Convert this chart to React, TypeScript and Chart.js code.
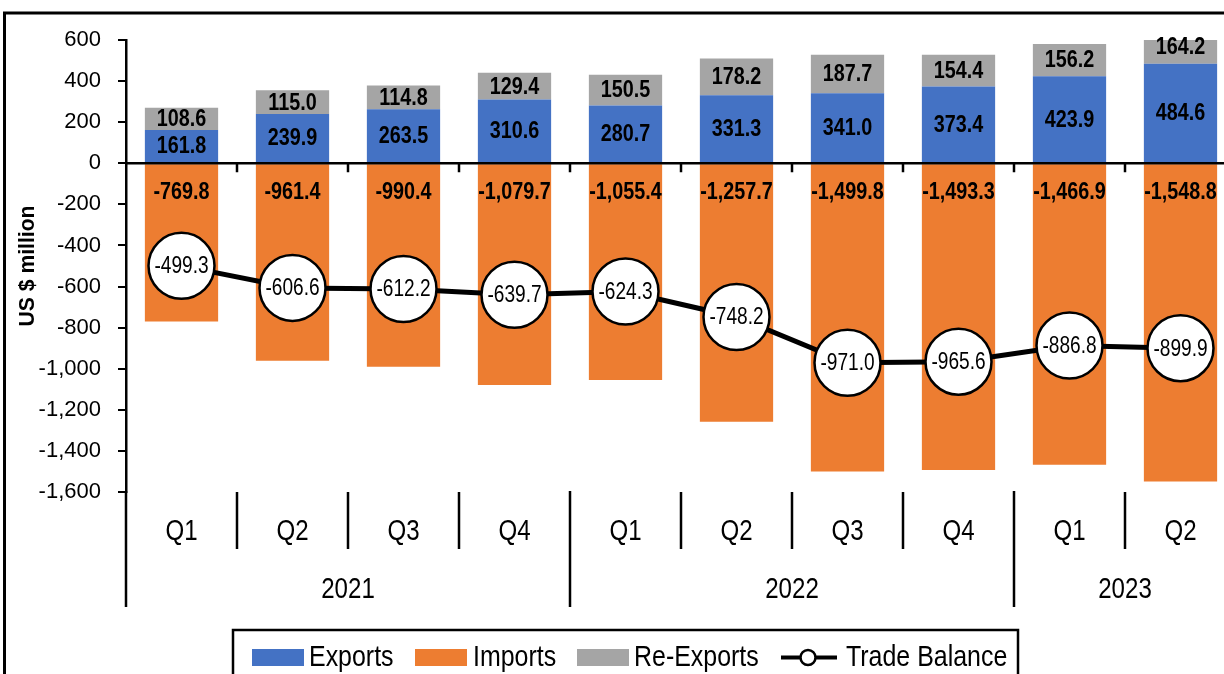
import React, { useEffect, useRef } from "react";
import { Chart, registerables } from "chart.js";

Chart.register(...registerables);

const QUARTERS = ["Q1", "Q2", "Q3", "Q4", "Q1", "Q2", "Q3", "Q4", "Q1", "Q2"];
const YEAR_LABELS = ["2021", "2022", "2023"];
const YEAR_SPANS = [4, 4, 2];

const EXPORTS = [161.8, 239.9, 263.5, 310.6, 280.7, 331.3, 341.0, 373.4, 423.9, 484.6];
const RE_EXPORTS = [108.6, 115.0, 114.8, 129.4, 150.5, 178.2, 187.7, 154.4, 156.2, 164.2];
const IMPORTS = [-769.8, -961.4, -990.4, -1079.7, -1055.4, -1257.7, -1499.8, -1493.3, -1466.9, -1548.8];
const TRADE_BALANCE = [-499.3, -606.6, -612.2, -639.7, -624.3, -748.2, -971.0, -965.6, -886.8, -899.9];

const Y_MIN = -1600;
const Y_MAX = 600;
const Y_STEP = 200;

const BLUE = "#4472C4";
const ORANGE = "#ED7D31";
const GRAY = "#A5A5A5";
const FONT = "'Liberation Sans', Arial, Helvetica, sans-serif";

function fmt(v: number): string {
  return v.toLocaleString("en-US", { minimumFractionDigits: 1, maximumFractionDigits: 1 });
}

function txt(
  ctx: CanvasRenderingContext2D,
  s: string,
  x: number,
  y: number,
  font: string,
  sx: number,
  align: CanvasTextAlign = "center",
  baseline: CanvasTextBaseline = "middle",
  rot = 0
) {
  ctx.save();
  ctx.translate(x, y);
  if (rot) ctx.rotate(rot);
  ctx.scale(sx, 1);
  ctx.font = font;
  ctx.fillStyle = "#000";
  ctx.textAlign = align;
  ctx.textBaseline = baseline;
  ctx.fillText(s, 0, 0);
  ctx.restore();
}

const customPlugin = {
  id: "customDraw",
  beforeDraw(chart: any) {
    const ctx = chart.ctx as CanvasRenderingContext2D;
    ctx.save();
    ctx.fillStyle = "#fff";
    ctx.fillRect(0, 0, chart.width, chart.height);
    ctx.strokeStyle = "#000";
    ctx.lineWidth = 3;
    ctx.strokeRect(4.5, 13, chart.width + 40, chart.height + 40);
    ctx.restore();
  },
  beforeDatasetDraw(chart: any, args: any) {
    if (args.index !== 3) return;
    const ctx = chart.ctx as CanvasRenderingContext2D;
    const { left, right } = chart.chartArea;
    const y0 = chart.scales.y.getPixelForValue(0);
    const n = QUARTERS.length;
    const w = (right - left) / n;
    ctx.save();
    ctx.strokeStyle = "#000";
    ctx.lineWidth = 2.5;
    ctx.beginPath();
    ctx.moveTo(left, y0);
    ctx.lineTo(right, y0);
    for (let i = 1; i <= n; i++) {
      const bx = left + i * w;
      ctx.moveTo(bx, y0);
      ctx.lineTo(bx, y0 + 9);
    }
    ctx.stroke();
    ctx.restore();
  },
  afterDatasetsDraw(chart: any) {
    const ctx = chart.ctx as CanvasRenderingContext2D;
    const boldF = `bold 23px ${FONT}`;
    const expMeta = chart.getDatasetMeta(0);
    const impMeta = chart.getDatasetMeta(1);
    const reMeta = chart.getDatasetMeta(2);
    const lineMeta = chart.getDatasetMeta(3);
    for (let i = 0; i < QUARTERS.length; i++) {
      const e = expMeta.data[i];
      txt(ctx, fmt(EXPORTS[i]), e.x, (e.y + e.base) / 2 + 1, boldF, 0.86);
      const r = reMeta.data[i];
      txt(ctx, fmt(RE_EXPORTS[i]), r.x, (r.y + r.base) / 2 + 1, boldF, 0.86);
      const m = impMeta.data[i];
      txt(ctx, fmt(IMPORTS[i]), m.x, m.base + 28, boldF, 0.86);
      const p = lineMeta.data[i];
      txt(ctx, fmt(TRADE_BALANCE[i]), p.x, p.y + 1, `23px ${FONT}`, 0.83);
    }
  },
  afterDraw(chart: any) {
    const ctx = chart.ctx as CanvasRenderingContext2D;
    const { left, right, bottom, top } = chart.chartArea;
    const n = QUARTERS.length;
    const w = (right - left) / n;
    const yearBounds: number[] = [0];
    let acc = 0;
    for (const s of YEAR_SPANS) {
      acc += s;
      yearBounds.push(acc);
    }
    ctx.save();
    ctx.strokeStyle = "#000";
    ctx.lineWidth = 2.5;
    ctx.beginPath();
    for (let i = 0; i <= n; i++) {
      const bx = left + i * w;
      const isYear = yearBounds.indexOf(i) >= 0;
      ctx.moveTo(bx, isYear ? bottom - 1 : bottom);
      ctx.lineTo(bx, isYear ? bottom + 115 : bottom + 57);
    }
    ctx.stroke();
    ctx.restore();

    const qF = `29px ${FONT}`;
    for (let i = 0; i < n; i++) {
      const cx = left + (i + 0.5) * w;
      txt(ctx, QUARTERS[i], cx, bottom + 48, qF, 0.83, "center", "alphabetic");
    }
    for (let k = 0; k < YEAR_LABELS.length; k++) {
      const cx = left + ((yearBounds[k] + yearBounds[k + 1]) / 2) * w;
      txt(ctx, YEAR_LABELS[k], cx, bottom + 106, qF, 0.83, "center", "alphabetic");
    }

    txt(ctx, "US $ million", 28, (top + bottom) / 2, `bold 22px ${FONT}`, 0.96, "center", "middle", -Math.PI / 2);

    ctx.save();
    ctx.strokeStyle = "#000";
    ctx.lineWidth = 2.5;
    ctx.strokeRect(233, 630, 785, 80);
    ctx.fillStyle = BLUE;
    ctx.fillRect(252, 649, 52, 17);
    ctx.fillStyle = ORANGE;
    ctx.fillRect(415, 649, 52, 17);
    ctx.fillStyle = GRAY;
    ctx.fillRect(577, 649, 52, 17);
    ctx.beginPath();
    ctx.lineWidth = 4;
    ctx.moveTo(781, 657.5);
    ctx.lineTo(837, 657.5);
    ctx.stroke();
    ctx.beginPath();
    ctx.arc(808, 657.5, 7.5, 0, Math.PI * 2);
    ctx.fillStyle = "#fff";
    ctx.fill();
    ctx.lineWidth = 2.5;
    ctx.stroke();
    ctx.restore();
    const lF = `29px ${FONT}`;
    txt(ctx, "Exports", 309, 666, lF, 0.86, "left", "alphabetic");
    txt(ctx, "Imports", 473, 666, lF, 0.86, "left", "alphabetic");
    txt(ctx, "Re-Exports", 634, 666, lF, 0.86, "left", "alphabetic");
    txt(ctx, "Trade Balance", 846, 666, lF, 0.86, "left", "alphabetic");
  },
};

export default function App() {
  const ref = useRef<HTMLCanvasElement | null>(null);
  useEffect(() => {
    if (!ref.current) return;
    const labels = QUARTERS.map((q, i) => {
      let acc = 0;
      for (let k = 0; k < YEAR_SPANS.length; k++) {
        if (i < acc + YEAR_SPANS[k]) return `${YEAR_LABELS[k]} ${q}`;
        acc += YEAR_SPANS[k];
      }
      return q;
    });
    const chart = new Chart(ref.current, {
      type: "bar",
      data: {
        labels,
        datasets: [
          { type: "bar", label: "Exports", data: EXPORTS, backgroundColor: BLUE, stack: "s", order: 1, barPercentage: 0.66, categoryPercentage: 1 },
          { type: "bar", label: "Imports", data: IMPORTS, backgroundColor: ORANGE, stack: "s", order: 1, barPercentage: 0.66, categoryPercentage: 1 },
          { type: "bar", label: "Re-Exports", data: RE_EXPORTS, backgroundColor: GRAY, stack: "s", order: 1, barPercentage: 0.66, categoryPercentage: 1 },
          {
            type: "line",
            label: "Trade Balance",
            data: TRADE_BALANCE,
            stack: "tb",
            order: 0,
            borderColor: "#000",
            borderWidth: 5,
            pointRadius: 33,
            pointBackgroundColor: "#fff",
            pointBorderColor: "#000",
            pointBorderWidth: 2.5,
            tension: 0,
            clip: false as any,
          } as any,
        ],
      },
      options: {
        animation: false,
        responsive: false,
        devicePixelRatio: 1,
        layout: { autoPadding: false, padding: { left: 0, right: 24, top: 40, bottom: 182 } },
        plugins: { legend: { display: false }, tooltip: { enabled: false } },
        scales: {
          x: { display: false, stacked: true },
          y: {
            stacked: true,
            min: Y_MIN,
            max: Y_MAX,
            afterFit: (s: any) => {
              s.width = 126;
            },
            ticks: {
              stepSize: Y_STEP,
              color: "#000",
              padding: 17,
              font: { family: FONT, size: 22 },
              callback: (v: any) => Number(v).toLocaleString("en-US"),
            },
            grid: { drawOnChartArea: false, drawTicks: true, tickLength: 8, color: "#000", lineWidth: 2 },
            border: { display: true, color: "#000", width: 2.5 },
          },
        },
      },
      plugins: [customPlugin],
    } as any);
    return () => chart.destroy();
  }, []);
  return (
    <div style={{ position: "fixed", left: 0, top: 0, width: 1224, height: 674, overflow: "hidden", background: "#fff" }}>
      <canvas ref={ref} width={1260} height={674} style={{ display: "block", width: 1260, height: 674 }} />
    </div>
  );
}
